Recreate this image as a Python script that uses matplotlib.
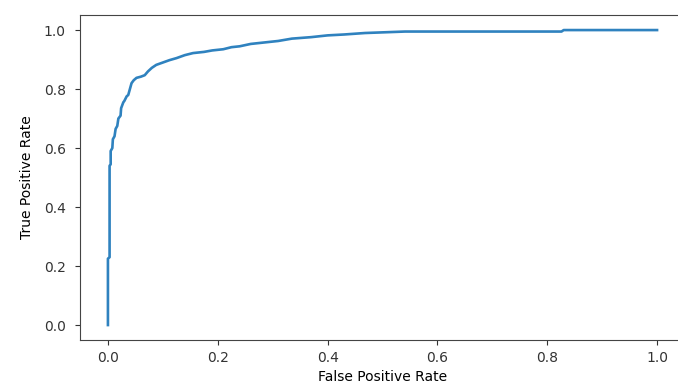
import matplotlib
matplotlib.use("Agg")
import matplotlib.pyplot as plt

# ROC curve points
fpr = [0.0, 0.0, 0.003, 0.003, 0.005, 0.005, 0.008, 0.009, 0.012, 0.014,
       0.017, 0.019, 0.023, 0.024, 0.028, 0.030, 0.034, 0.037, 0.040, 0.043,
       0.047, 0.052, 0.060, 0.067, 0.073, 0.080, 0.088, 0.100, 0.112, 0.125,
       0.140, 0.155, 0.175, 0.190, 0.210, 0.225, 0.240, 0.260, 0.285, 0.310,
       0.335, 0.370, 0.400, 0.430, 0.468, 0.541, 0.826, 0.830, 1.0]
tpr = [0.0, 0.225, 0.230, 0.540, 0.545, 0.590, 0.600, 0.630, 0.640, 0.665,
       0.675, 0.700, 0.710, 0.735, 0.755, 0.760, 0.775, 0.780, 0.800, 0.820,
       0.830, 0.838, 0.842, 0.847, 0.860, 0.872, 0.882, 0.890, 0.898, 0.905,
       0.915, 0.922, 0.926, 0.931, 0.935, 0.942, 0.945, 0.953, 0.958, 0.963,
       0.971, 0.976, 0.982, 0.985, 0.990, 0.995, 0.995, 1.0, 1.0]

fig = plt.figure(figsize=(6.78, 3.83), dpi=100)
# axes extend slightly past the right edge, as in the cropped reference
ax = fig.add_axes([0.1187, 0.1128, 0.8909, 0.8472])
ax.plot(fpr, tpr, color='#2f82bf', linewidth=1.9)
ax.set_xlabel("False Positive Rate", fontsize=10, labelpad=3.5)
ax.set_ylabel("True Positive Rate", fontsize=10, labelpad=7)
ax.tick_params(axis='both', labelsize=10, colors='#333333', labelcolor='#333333')
ax.tick_params(axis='y', pad=7)
ax.tick_params(axis='x', pad=4.5)
for sp in ax.spines.values():
    sp.set_color('#444444')

fig.savefig("out.png", dpi=100)
